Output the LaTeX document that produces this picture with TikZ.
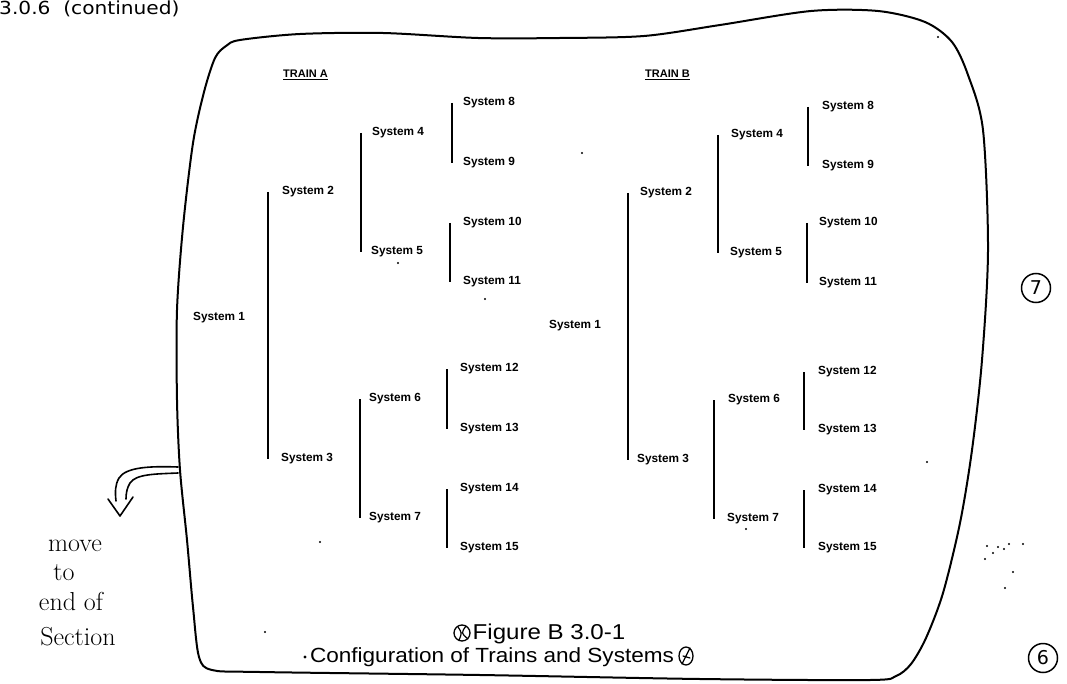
\documentclass[tikz,border=0pt]{standalone}
\usepackage{fontspec}
\newfontfamily\lib{Liberation Sans}
\newfontfamily\djv{DejaVu Sans}
\newcommand\sysbar[4]{\coordinate (tmp) at ([xshift=#4]#2.west); \draw[#1] (tmp) -- (tmp |- #3.west);}
\begin{document}
\begin{tikzpicture}[x=1pt,y=-1pt,
  sys/.style={anchor=west,inner sep=0pt,font=\lib\fontsize{11.8}{12}\selectfont\bfseries},
  train/.style={anchor=west,inner sep=0pt,font=\lib\fontsize{11}{12}\selectfont\bfseries},
  bar/.style={line width=2.6pt},
  sbar/.style={line width=2.2pt},
  border/.style={line width=2pt,line join=round},
  handline/.style={line width=1.6pt,line cap=round,line join=round},
  hand/.style={inner sep=0pt,font=\fontsize{26}{28}\selectfont},
  pagemark/.style={circle,draw,line width=1.5pt,minimum size=29pt,inner sep=0pt,font=\djv\fontsize{19}{19}\selectfont},
  speck/.style={fill=black}]
\useasboundingbox (0,0) rectangle (1067,684);
\fill[white] (0,0) rectangle (1067,684);

% header
\node[anchor=west,inner sep=0pt,xscale=1.12,font=\djv\fontsize{18}{20}\selectfont] (hdr) at (-1,9) {3.0.6\ \ (continued)};

% border
\draw[border] plot[smooth cycle, tension=0.5] coordinates {(240,40) (300,34) (383,33) (478,38) (560,38) (644,36) (720,25) (811,11) (878,11) (925,22) (952,42) (968,75) (983,130) (988,250) (982,360) (972,450) (960,523) (943,593) (926,638) (911,664) (896,676) (870,680) (700,679) (480,675) (260,672) (212,670) (199,657) (193,607) (187,540) (180,470) (177,400) (177,310) (183,227) (193,143) (204,92) (215,58) (226,46)};

% Train A
\node[train] (TA) at (283,75) {\underline{TRAIN A}};
\node[sys] (A1) at (193,318) {System 1};
\node[sys] (A2) at (282,192) {System 2};
\node[sys] (A3) at (281,459) {System 3};
\node[sys] (A4) at (372,133) {System 4};
\node[sys] (A5) at (371,252) {System 5};
\node[sys] (A6) at (369,399) {System 6};
\node[sys] (A7) at (369,518) {System 7};
\node[sys] (A8) at (463,103) {System 8};
\node[sys] (A9) at (463,163) {System 9};
\node[sys] (A10) at (463,223) {System 10};
\node[sys] (A11) at (463,282) {System 11};
\node[sys] (A12) at (460,369) {System 12};
\node[sys] (A13) at (460,429) {System 13};
\node[sys] (A14) at (460,489) {System 14};
\node[sys] (A15) at (460,548) {System 15};
\sysbar{bar}{A2}{A3}{-14pt}
\sysbar{bar}{A4}{A5}{-11pt}
\sysbar{bar}{A6}{A7}{-9pt}
\sysbar{sbar}{A8}{A9}{-11pt}
\sysbar{sbar}{A10}{A11}{-13pt}
\sysbar{sbar}{A12}{A13}{-13pt}
\sysbar{sbar}{A14}{A15}{-13pt}

% Train B
\node[train] (TB) at (645,75) {\underline{TRAIN B}};
\node[sys] (B1) at (549,326) {System 1};
\node[sys] (B2) at (640,193) {System 2};
\node[sys] (B3) at (637,460) {System 3};
\node[sys] (B4) at (731,135) {System 4};
\node[sys] (B5) at (730,253) {System 5};
\node[sys] (B6) at (728,400) {System 6};
\node[sys] (B7) at (727,519) {System 7};
\node[sys] (B8) at (822,107) {System 8};
\node[sys] (B9) at (822,166) {System 9};
\node[sys] (B10) at (819,223) {System 10};
\node[sys] (B11) at (819,283) {System 11};
\node[sys] (B12) at (818,372) {System 12};
\node[sys] (B13) at (818,430) {System 13};
\node[sys] (B14) at (818,490) {System 14};
\node[sys] (B15) at (818,548) {System 15};
\sysbar{bar}{B2}{B3}{-12pt}
\sysbar{bar}{B4}{B5}{-13pt}
\sysbar{bar}{B6}{B7}{-14pt}
\sysbar{sbar}{B8}{B9}{-14pt}
\sysbar{sbar}{B10}{B11}{-12pt}
\sysbar{sbar}{B12}{B13}{-14pt}
\sysbar{sbar}{B14}{B15}{-14pt}

% caption
\node[inner sep=0pt,xscale=1.12,font=\lib\fontsize{21.5}{22}\selectfont] (fig) at (549,634) {Figure B 3.0-1};
\node[inner sep=0pt,xscale=1.1,font=\lib\fontsize{20.5}{22}\selectfont] (cap) at (492,657) {Configuration of Trains and Systems};
\fill (305,657) circle (1.6);
\draw[handline,line width=1.3pt] (462,633) circle (8);
\draw[handline,line width=1.2pt] (458,627) .. controls (462,633) .. (459,640) (466,626) .. controls (461,633) .. (468,639);
\draw[handline,line width=1.3pt] (686,656) ellipse (7 and 9);
\draw[handline,line width=1.2pt] (690,648) -- (682,664) (683,656) -- (690,658);

% handwritten note
\draw[handline] (178,467) .. controls (150,466) and (126,467) .. (119,478) .. controls (115,485) and (115,492) .. (116,501);
\draw[handline] (178,473) .. controls (155,474) and (136,474) .. (130,483) .. controls (127,488) and (126,493) .. (126,499);
\draw[handline] (108,499) -- (120,516) -- (133,497);
\node[hand] (n1) at (75,546) {move};
\node[hand] (n2) at (64,573) {to};
\node[hand] (n3) at (71,601) {end of};
\node[hand] (n4) at (78,637) {Section};

% circled page marks
\node[pagemark] (c7) at (1036,288) {7};
\node[pagemark] (c6) at (1043,658) {6};

% specks
\foreach \p in {(582,153),(398,263),(485,299),(320,542),(927,462),(265,632),(788,14),(938,37),(746,529),(987,546),(993,553),(998,547),(1004,549),(985,559),(1009,544),(1023,544),(1005,588),(1013,572)}
  \fill[speck] \p circle (1.2);
\end{tikzpicture}
\end{document}
